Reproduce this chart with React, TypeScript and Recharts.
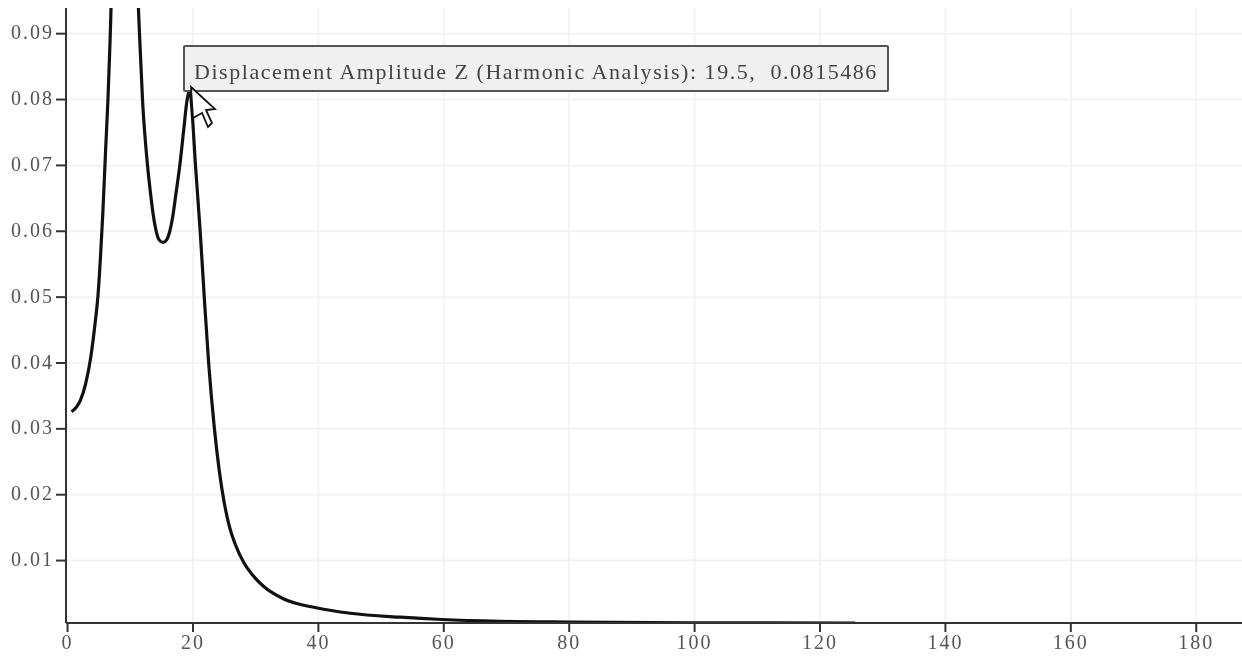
import { CartesianGrid, Line, LineChart, Tooltip, XAxis, YAxis } from "recharts";

const frequency = [
  0.64, 1.5, 2.07, 2.87, 3.67, 4.35, 4.83, 5.22, 5.63, 6.08, 6.44, 6.78, 6.93, 7.6, 8.4, 9.2, 10, 10.7, 11.3, 11.47,
  11.95, 12.75, 13.2, 13.66, 14.14, 14.6, 15.22, 15.8, 16.3, 16.8, 17.3, 17.9, 18.5, 19.07, 19.5, 19.75, 20.4, 21.15,
  21.8, 22.5, 23.4, 24.2, 25, 25.8, 26.77, 28.1, 29.5, 31.24, 34.4, 39.8, 45.1, 53.1, 59.7, 69, 80, 100, 125.6,
];
const amplitude = [
  0.0326, 0.0334, 0.0344, 0.0368, 0.0407, 0.0457, 0.05, 0.0556, 0.0629, 0.0726, 0.08, 0.0889, 0.0939, 0.112, 0.128,
  0.134, 0.125, 0.107, 0.0939, 0.09, 0.08, 0.07, 0.066, 0.0625, 0.06, 0.0587, 0.0583, 0.0587, 0.06, 0.0624, 0.0658,
  0.07, 0.0752, 0.08, 0.0815486, 0.0795, 0.07, 0.06, 0.05, 0.04, 0.0302, 0.0236, 0.0187, 0.0152, 0.0124, 0.0097, 0.0078,
  0.0061, 0.0042, 0.0028, 0.002, 0.0014, 0.00105, 0.00078, 0.00066, 0.00056, 0.00052,
];
const xTicks = [0, 20, 40, 60, 80, 100, 120, 140, 160, 180];
const yTicks = [0.01, 0.02, 0.03, 0.04, 0.05, 0.06, 0.07, 0.08, 0.09];

const SERIES_NAME = "Displacement Amplitude Z (Harmonic Analysis)";
const HOVER_INDEX = frequency.indexOf(19.5);
const FONT = '"Liberation Serif", serif';

const data = frequency.map((f, i) => ({ f, z: amplitude[i] }));

const tickStyle = { fill: "#555", fontSize: 20, fontFamily: FONT, letterSpacing: 2 };
const axisStroke = { stroke: "#333", strokeWidth: 2 };

function HoverBox({ payload }: any) {
  const point = payload?.[0]?.payload;
  if (!point) return null;
  return (
    <div
      style={{
        position: "relative",
        boxSizing: "border-box",
        width: 706,
        height: 47,
        padding: "0 0 0 9px",
        lineHeight: "50px",
        background: "#f0f0f0",
        border: "2px solid #555",
        borderRadius: 2,
        color: "#444",
        fontFamily: FONT,
        fontSize: 22,
        letterSpacing: 1.55,
        whiteSpace: "pre",
      }}
    >
      {`${SERIES_NAME}: ${point.f},  ${point.z}`}
      {/* mouse pointer from the screenshot */}
      <svg width={40} height={50} style={{ position: "absolute", left: 4, top: 38 }}>
        <path
          d="M2 2 L26 24 L17 25 L23 38 L19 42 L13 28 L4 33 Z"
          fill="#fff"
          stroke="#111"
          strokeWidth={1.8}
          strokeLinejoin="miter"
        />
      </svg>
    </div>
  );
}

export default function App() {
  return (
    <div style={{ position: "absolute", left: 0, top: 0, width: 1242, height: 657, background: "#fff", filter: "blur(0.5px)" }}>
      <LineChart width={1242} height={657} data={data} margin={{ top: 8, right: 0, bottom: 0, left: 0 }}>
        <CartesianGrid stroke="#f3f3f3" strokeWidth={2} verticalValues={xTicks.slice(1)} horizontalValues={yTicks} />
        <XAxis
          type="number"
          dataKey="f"
          domain={[-0.25, 187.3]}
          ticks={xTicks}
          height={34}
          tickSize={9}
          tickMargin={3}
          allowDataOverflow
          axisLine={axisStroke}
          tickLine={axisStroke}
          tick={tickStyle}
        />
        <YAxis
          type="number"
          domain={[0.00052, 0.0939]}
          ticks={yTicks}
          width={66}
          tickSize={10}
          tickMargin={2}
          allowDataOverflow
          tickFormatter={(v: number) => v.toFixed(2)}
          axisLine={axisStroke}
          tickLine={axisStroke}
          tick={{ ...tickStyle, dy: -1.5 }}
        />
        <Tooltip
          active
          defaultIndex={HOVER_INDEX}
          cursor={false}
          position={{ x: 183, y: 45 }}
          isAnimationActive={false}
          allowEscapeViewBox={{ x: true, y: true }}
          content={<HoverBox />}
        />
        <Line
          type="monotone"
          dataKey="z"
          stroke="#111"
          strokeWidth={3.2}
          dot={false}
          activeDot={false}
          isAnimationActive={false}
        />
      </LineChart>
    </div>
  );
}
